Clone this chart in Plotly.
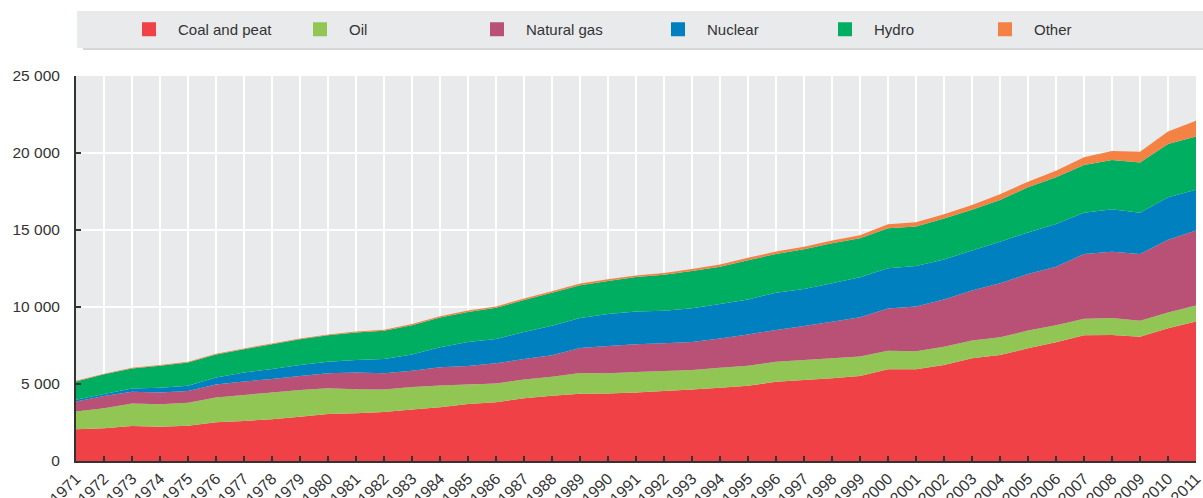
import plotly.graph_objects as go

years = list(range(1971, 2012))

coal = [2060, 2120, 2270, 2230, 2290, 2510, 2600, 2710, 2880, 3050, 3100, 3180, 3350, 3490, 3700, 3810, 4070, 4240, 4370, 4390,
        4440, 4550, 4650, 4760, 4890, 5150, 5260, 5370, 5520, 5950, 5960, 6230, 6670, 6880, 7320, 7710, 8160, 8180, 8070, 8620, 9060]
oil = [1150, 1300, 1470, 1450, 1490, 1620, 1690, 1730, 1730, 1670, 1560, 1470, 1450, 1410, 1260, 1230, 1230, 1230, 1340, 1310,
       1340, 1300, 1260, 1300, 1300, 1300, 1300, 1300, 1260, 1210, 1170, 1190, 1150, 1150, 1150, 1100, 1080, 1100, 1040, 1020, 1040]
natural_gas = [650, 800, 760, 760, 760, 840, 870, 890, 910, 970, 1080, 1040, 1060, 1190, 1210, 1300, 1320, 1390, 1620, 1770,
               1800, 1800, 1820, 1900, 2030, 2060, 2210, 2380, 2550, 2750, 2900, 3070, 3250, 3510, 3680, 3810, 4200, 4310, 4330, 4720, 4870]
nuclear = [120, 130, 210, 320, 350, 450, 580, 650, 710, 760, 820, 930, 1060, 1300, 1560, 1580, 1750, 1930, 1950, 2080,
           2120, 2100, 2190, 2230, 2270, 2420, 2400, 2490, 2600, 2600, 2640, 2600, 2600, 2700, 2680, 2770, 2680, 2750, 2680, 2770, 2640]
hydro = [1190, 1280, 1300, 1430, 1510, 1490, 1520, 1600, 1670, 1710, 1780, 1840, 1900, 1930, 1950, 2030, 2080, 2140, 2140, 2140,
         2240, 2340, 2420, 2420, 2550, 2510, 2580, 2600, 2530, 2600, 2550, 2660, 2640, 2710, 2940, 3030, 3100, 3200, 3270, 3460, 3460]
other = [36, 38, 40, 42, 45, 48, 52, 55, 58, 62, 66, 70, 75, 80, 85, 90, 95, 100, 105, 110,
         110, 110, 130, 150, 150, 170, 170, 175, 195, 260, 280, 280, 320, 370, 370, 430, 500, 590, 690, 800, 1020]

series_names = ["Coal and peat", "Oil", "Natural gas", "Nuclear", "Hydro", "Other"]
series_values = [coal, oil, natural_gas, nuclear, hydro, other]
colors = ["#EF4146", "#92C654", "#B95076", "#0080BE", "#00AE62", "#F48245"]

y_tickvals = [0, 5000, 10000, 15000, 20000, 25000]
y_ticktext = ["0", "5 000", "10 000", "15 000", "20 000", "25 000"]

FONT = "Liberation Sans, Arial, sans-serif"
TXT = "#333333"

W, H = 1203, 498
ml, mr, mt, mb = 76, 7, 76, 37
pw, ph = W - ml - mr, H - mt - mb


def px_x(p):
    return (p - ml) / pw


def px_y(p):
    return 1 + (mt - p) / ph


legend_keys = ["legend", "legend2", "legend3", "legend4", "legend5", "legend6"]
legend_left_px = [120, 291, 468, 649, 816, 976]

fig = go.Figure()
for name, vals, col in zip(series_names, series_values, colors):
    fig.add_trace(go.Scatter(
        x=years, y=vals, name=name, stackgroup="one", mode="none",
        fillcolor=col, line=dict(width=0, color=col), showlegend=False,
        hoverinfo="x+y+name"))
# legend swatches, one small legend per entry so each sits where the reference puts it
for name, col, key in zip(series_names, colors, legend_keys):
    fig.add_trace(go.Scatter(
        x=[None], y=[None], mode="markers", name=name, legend=key,
        marker=dict(symbol="square", size=14, color=col), showlegend=True))

shapes = [
    dict(type="rect", xref="paper", yref="paper", x0=px_x(83), x1=px_x(1206), y0=px_y(50), y1=px_y(14),
         fillcolor="#d6d7d9", line=dict(width=0), layer="below"),
    dict(type="rect", xref="paper", yref="paper", x0=px_x(77), x1=px_x(1203), y0=px_y(48), y1=px_y(11),
         fillcolor="#E9EAEC", line=dict(width=0), layer="below"),
]

legend_layout = {}
for key, lx in zip(legend_keys, legend_left_px):
    legend_layout[key] = dict(orientation="h", x=px_x(lx), xanchor="left", y=px_y(29.5), yanchor="middle",
                              bgcolor="rgba(0,0,0,0)", font=dict(size=15, color=TXT, family=FONT),
                              itemwidth=48)

fig.update_layout(
    width=W, height=H,
    margin=dict(l=ml, r=mr, t=mt, b=mb, autoexpand=False),
    paper_bgcolor="white", plot_bgcolor="#E9EAEC",
    font=dict(family=FONT, color=TXT, size=15),
    shapes=shapes,
    showlegend=True,
    xaxis=dict(range=[1971, 2011], tickmode="linear", tick0=1971, dtick=1,
               showgrid=True, gridcolor="white", gridwidth=2,
               showline=True, linecolor="#333333", linewidth=2,
               ticks="inside", ticklen=5, tickwidth=1.5, tickcolor="#333333",
               tickangle=-45, tickfont=dict(size=16, color=TXT), automargin=False, zeroline=False,
               ticklabeloverflow="allow"),
    yaxis=dict(range=[0, 25000], tickvals=y_tickvals, ticktext=y_ticktext,
               showgrid=True, gridcolor="white", gridwidth=2,
               showline=True, linecolor="#333333", linewidth=2,
               ticks="inside", ticklen=5, tickwidth=1.5, tickcolor="#333333",
               ticklabelstandoff=11,
               tickfont=dict(size=15.5, color=TXT), automargin=False, zeroline=False),
    **legend_layout,
)

fig.write_html("out.html", config={"displayModeBar": False},
               post_script="document.body.style.margin='0';document.body.style.padding='0';")
